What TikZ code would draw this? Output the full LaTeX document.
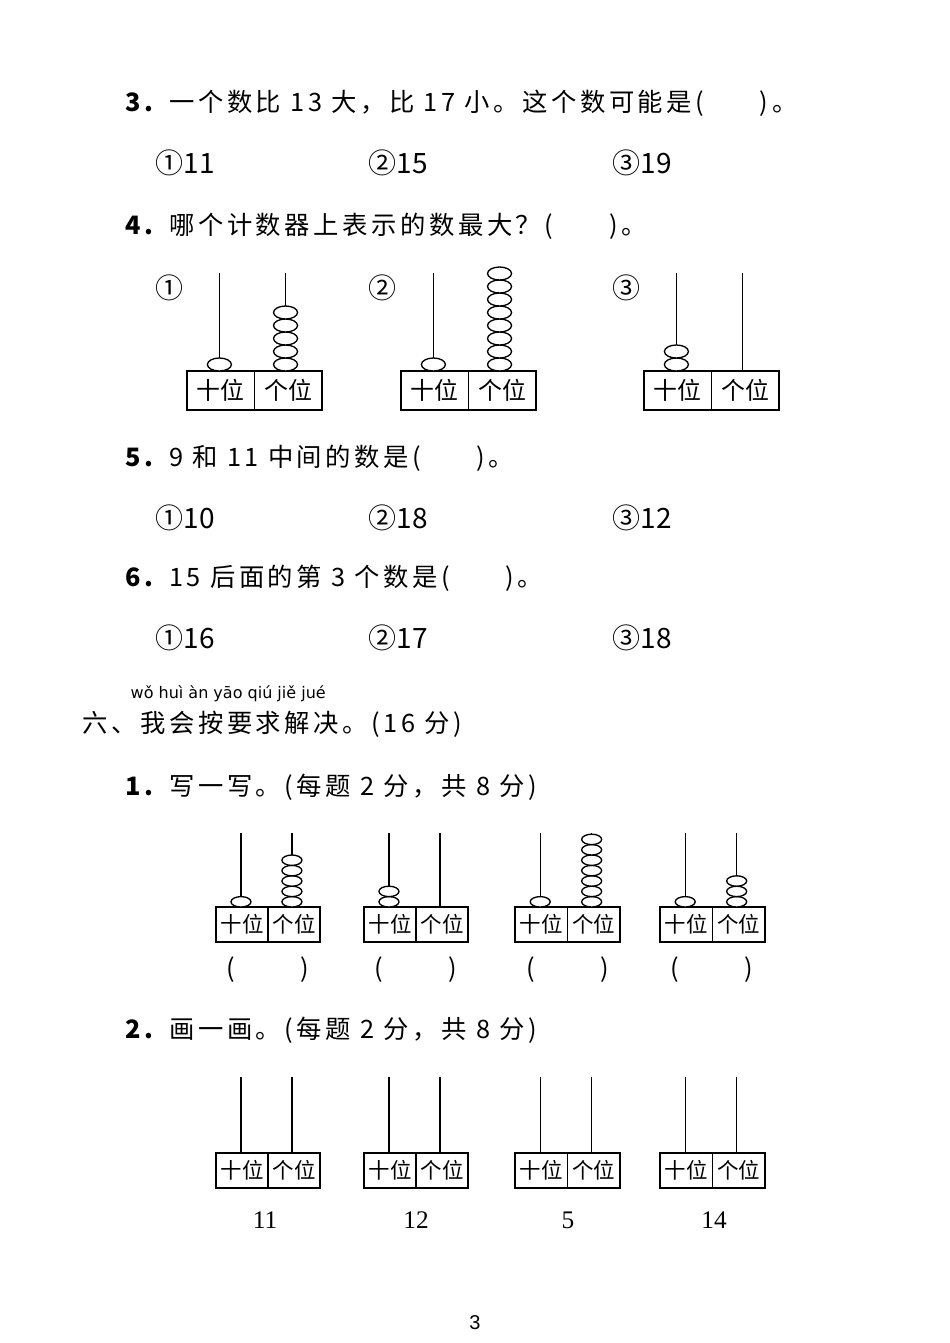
\documentclass[tikz,border=0pt]{standalone}
\usepackage{fontspec}
\newfontfamily\cjk{Noto Sans CJK SC}
\newfontfamily\cjkw[LetterSpace=14]{Noto Sans CJK SC}
\setmainfont{Liberation Serif}
\newcommand\abac[9]{% left,top,width,height,rodtop,tens,ones,rx,ry
 \pgfmathsetmacro\ra{#1+0.24*#3}\pgfmathsetmacro\rb{#1+0.73*#3}\pgfmathsetmacro\md{#1+0.5*#3}
 \pgfmathsetmacro\fs{#4*0.46}
 \draw (\ra,#5)--(\ra,#2) (\rb,#5)--(\rb,#2);
 \draw (#1,#2) rectangle (#1+#3,#2+#4) (\md,#2)--(\md,#2+#4);
 \ifnum#6>0 \foreach \i in {1,...,#6}{\draw[fill=white] (\ra,#2-2*#9*\i+#9) ellipse ({#8} and {#9});}\fi
 \ifnum#7>0 \foreach \i in {1,...,#7}{\draw[fill=white] (\rb,#2-2*#9*\i+#9) ellipse ({#8} and {#9});}\fi
 \node[inner sep=0,font=\cjk\fontsize{\fs}{\fs}\selectfont] at ({#1+0.25*#3},#2+#4/2) {十位};
 \node[inner sep=0,font=\cjk\fontsize{\fs}{\fs}\selectfont] at ({#1+0.75*#3},#2+#4/2) {个位};
}
\begin{document}
\begin{tikzpicture}[x=0.75pt,y=-0.75pt,line width=1pt,
 t/.style={anchor=west,inner sep=0,font=\cjkw\fontsize{19}{22}\selectfont},
 o/.style={anchor=west,inner sep=0,font=\cjk\fontsize{21}{24}\selectfont}]
\useasboundingbox[fill=white] (0,0) rectangle (950,1343);
\node[t] (q3) at (125,103) {\textbf{3.} 一个数比 13 大，比 17 小。这个数可能是(\hspace{2.2em})。};
\node[o] (a31) at (155,163) {①11};
\node[o] (a32) at (368,163) {②15};
\node[o] (a33) at (612,163) {③19};
\node[t] (q4) at (125,226) {\textbf{4.} 哪个计数器上表示的数最大？(\hspace{2.2em})。};
\node[o] (c1) at (155,288) {①};
\node[o] (c2) at (368,288) {②};
\node[o] (c3) at (612,288) {③};
\abac{187}{371}{135}{39}{273}{1}{5}{12}{6.5}
\abac{401}{371}{135}{39}{273}{1}{8}{12}{6.5}
\abac{644}{371}{135}{39}{273}{2}{0}{12}{6.5}
\node[t] (q5) at (125,458) {\textbf{5.} 9 和 11 中间的数是(\hspace{2.2em})。};
\node[o] (a51) at (155,518) {①10};
\node[o] (a52) at (368,518) {②18};
\node[o] (a53) at (612,518) {③12};
\node[t] (q6) at (125,578) {\textbf{6.} 15 后面的第 3 个数是(\hspace{2.2em})。};
\node[o] (a61) at (155,638) {①16};
\node[o] (a62) at (368,638) {②17};
\node[o] (a63) at (612,638) {③18};
\node[anchor=west,inner sep=0,font=\fontspec{DejaVu Sans}\fontsize{12}{14}\selectfont] (py) at (130,694) {wǒ huì àn yāo qiú jiě jué};
\node[t] (h6) at (82,724) {六、我会按要求解决。(16 分)};
\node[t] (s1) at (125,787) {\textbf{1.} 写一写。(每题 2 分，共 8 分)};
\abac{216}{907}{104}{35}{833}{1}{5}{10}{5.2}
\abac{364}{907}{104}{35}{833}{2}{0}{10}{5.2}
\abac{515}{907}{105}{35}{833}{1}{7}{10}{5.2}
\abac{660}{907}{105}{35}{833}{1}{3}{10}{5.2}
\foreach \x/\n in {268/p1,416/p2,568/p3,712/p4}
 \node[font=\cjk\fontsize{19}{22}\selectfont] (\n) at (\x,970) {(\hspace{2.6em})};
\node[t] (s2) at (125,1030) {\textbf{2.} 画一画。(每题 2 分，共 8 分)};
\abac{216}{1153}{104}{35}{1077}{0}{0}{9}{4.6}
\abac{364}{1153}{104}{35}{1077}{0}{0}{9}{4.6}
\abac{515}{1153}{105}{35}{1077}{0}{0}{9}{4.6}
\abac{660}{1153}{105}{35}{1077}{0}{0}{9}{4.6}
\foreach \x/\v/\n in {265/11/n1,416/12/n2,568/5/n3,714/14/n4}
 \node[font=\fontsize{19}{22}\selectfont] (\n) at (\x,1220) {\v};
\node[font=\fontspec{Liberation Sans}\fontsize{15}{18}\selectfont] (pg) at (475,1323) {3};
\end{tikzpicture}
\end{document}
